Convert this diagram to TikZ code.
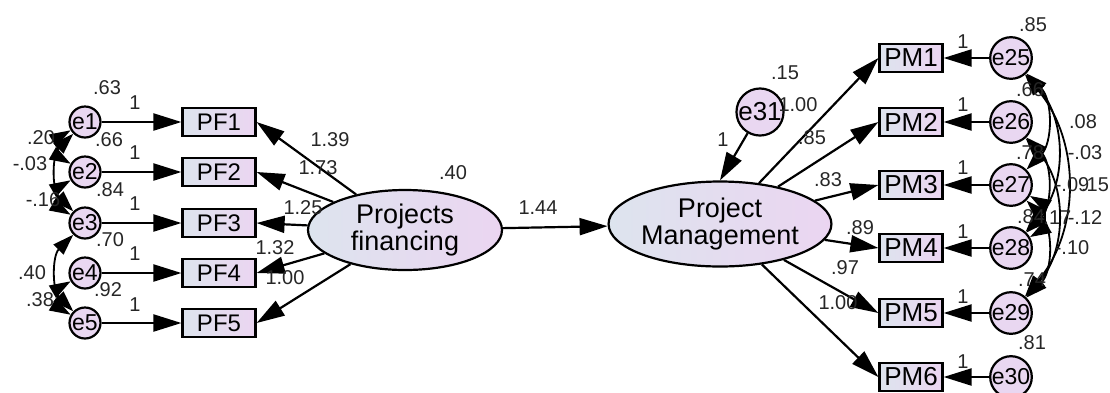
\documentclass[tikz,border=0pt]{standalone}
\usepackage{fontspec}
\setmainfont{Liberation Sans}
\usetikzlibrary{arrows.meta,shapes.geometric}

\definecolor{shadeleft}{RGB}{221,228,238}
\definecolor{shaderight}{RGB}{235,213,241}
\definecolor{errfill}{RGB}{233,215,241}

\tikzstyle{mybox} = [draw=black, line width=2.2pt, rectangle,
    left color=shadeleft, right color=shaderight, inner sep=0pt,
    minimum height=28pt]
\tikzstyle{mylatent} = [draw=black, line width=2.2pt, ellipse,
    left color=shadeleft, right color=shaderight, inner sep=0pt,
    align=center, font=\fontsize{27}{27}\selectfont]
\tikzstyle{myerr} = [draw=black, line width=2.2pt, circle, fill=errfill,
    inner sep=0pt, minimum size=31pt, font=\fontsize{23}{23}\selectfont]
\tikzstyle{myarrow} = [line width=2.2pt, -{Triangle[length=28pt,width=17pt]}]
\tikzstyle{mycov} = [line width=1.8pt,
    {Triangle[length=21pt,width=14pt]}-{Triangle[length=21pt,width=14pt]}]
\tikzstyle{mylabel} = [inner sep=0pt, text=black!85,
    font=\fontsize{20}{20}\selectfont]

\begin{document}
\begin{tikzpicture}[x=1pt,y=-1pt]
\useasboundingbox (0,0) rectangle (1110,392);

% left block
\node [myerr] (e1) at (85,122) {e1};
\node [myerr] (e2) at (85,172) {e2};
\node [myerr] (e3) at (85,223) {e3};
\node [myerr] (e4) at (85,273) {e4};
\node [myerr] (e5) at (85,323) {e5};
\node [mybox, minimum width=73pt, font=\fontsize{24}{24}\selectfont] (PF1) at (219,122) {PF1};
\node [mybox, minimum width=73pt, font=\fontsize{24}{24}\selectfont] (PF2) at (219,172) {PF2};
\node [mybox, minimum width=73pt, font=\fontsize{24}{24}\selectfont] (PF3) at (219,223) {PF3};
\node [mybox, minimum width=73pt, font=\fontsize{24}{24}\selectfont] (PF4) at (219,273) {PF4};
\node [mybox, minimum width=73pt, font=\fontsize{24}{24}\selectfont] (PF5) at (219,323) {PF5};
\node [mylatent, minimum width=194pt, minimum height=80pt] (pf) at (405,230) {Projects\\financing};

% right block
\node [mylatent, minimum width=200pt, minimum height=85pt] (pm) at (720,224) {Project\\Management};
\node [myerr, minimum size=42pt, font=\fontsize{26}{26}\selectfont] (e31) at (760,112) {e31};
\node [mybox, minimum width=63pt, font=\fontsize{26}{26}\selectfont] (PM1) at (911,58) {PM1};
\node [mybox, minimum width=63pt, font=\fontsize{26}{26}\selectfont] (PM2) at (911,122) {PM2};
\node [mybox, minimum width=63pt, font=\fontsize{26}{26}\selectfont] (PM3) at (911,185) {PM3};
\node [mybox, minimum width=63pt, font=\fontsize{26}{26}\selectfont] (PM4) at (911,248) {PM4};
\node [mybox, minimum width=63pt, font=\fontsize{26}{26}\selectfont] (PM5) at (911,313) {PM5};
\node [mybox, minimum width=63pt, font=\fontsize{26}{26}\selectfont] (PM6) at (911,377) {PM6};
\node [myerr, minimum size=34pt] (e25) at (1011,58) {e25};
\node [myerr, minimum size=34pt] (e26) at (1011,122) {e26};
\node [myerr, minimum size=34pt] (e27) at (1011,185) {e27};
\node [myerr, minimum size=34pt] (e28) at (1011,248) {e28};
\node [myerr, minimum size=34pt] (e29) at (1011,313) {e29};
\node [myerr, minimum size=34pt] (e30) at (1011,377) {e30};

% paths
\draw [myarrow] (e1) -- (PF1);
\draw [myarrow] (e2) -- (PF2);
\draw [myarrow] (e3) -- (PF3);
\draw [myarrow] (e4) -- (PF4);
\draw [myarrow] (e5) -- (PF5);
\draw [myarrow] (pf) -- (PF1.east);
\draw [myarrow] (pf) -- (PF2.east);
\draw [myarrow] (pf) -- (PF3.east);
\draw [myarrow] (pf) -- (PF4.east);
\draw [myarrow] (pf) -- (PF5.east);
\draw [myarrow] (pf) -- (pm);
\draw [myarrow] (e31) -- (pm.north);
\draw [myarrow] (pm) -- (PM1.west);
\draw [myarrow] (pm) -- (PM2.west);
\draw [myarrow] (pm) -- (PM3.west);
\draw [myarrow] (pm) -- (PM4.west);
\draw [myarrow] (pm) -- (PM5.west);
\draw [myarrow] (pm) -- (PM6.west);
\draw [myarrow] (e25) -- (PM1);
\draw [myarrow] (e26) -- (PM2);
\draw [myarrow] (e27) -- (PM3);
\draw [myarrow] (e28) -- (PM4);
\draw [myarrow] (e29) -- (PM5);
\draw [myarrow] (e30) -- (PM6);

% covariances
\draw [mycov] (e1) to[bend right=60] (e2);
\draw [mycov] (e1) to[bend right=45] (e3);
\draw [mycov] (e2) to[bend right=60] (e3);
\draw [mycov] (e3) to[bend right=45] (e5);
\draw [mycov] (e4) to[bend right=60] (e5);
\draw [mycov] (e25) to[bend left=45] (e27);
\draw [mycov] (e25) to[bend left=42] (e28);
\draw [mycov] (e25) to[bend left=40] (e29);
\draw [mycov] (e26) to[bend left=45] (e28);
\draw [mycov] (e26) to[bend left=42] (e29);
\draw [mycov] (e27) to[bend left=60] (e28);
\draw [mycov] (e27) to[bend left=45] (e29);

% estimates
\node [mylabel] (v1) at (107,88) {.63};
\node [mylabel] (v2) at (109,140) {.66};
\node [mylabel] (v3) at (110,190) {.84};
\node [mylabel] (v4) at (110,240) {.70};
\node [mylabel] (v5) at (108,290) {.92};
\node [mylabel] (w1) at (135,103) {1};
\node [mylabel] (w2) at (135,153) {1};
\node [mylabel] (w3) at (135,204) {1};
\node [mylabel] (w4) at (135,254) {1};
\node [mylabel] (w5) at (135,305) {1};
\node [mylabel] (c12) at (41,138) {.20};
\node [mylabel] (c13) at (30,164) {-.03};
\node [mylabel] (c23) at (43,200) {-.16};
\node [mylabel] (c35) at (32,273) {.40};
\node [mylabel] (c45) at (40,300) {.38};
\node [mylabel] (l1) at (330,140) {1.39};
\node [mylabel] (l2) at (318,168) {1.73};
\node [mylabel] (l3) at (303,208) {1.25};
\node [mylabel] (l4) at (275,248) {1.32};
\node [mylabel] (l5) at (285,278) {1.00};
\node [mylabel] (vpf) at (453,173) {.40};
\node [mylabel] (b1) at (538,208) {1.44};
\node [mylabel] (v31) at (785,73) {.15};
\node [mylabel] (r2) at (798,105) {1.00};
\node [mylabel] (w31) at (723,140) {1};
\node [mylabel] (m1) at (812,138) {.85};
\node [mylabel] (m2) at (828,180) {.83};
\node [mylabel] (m3) at (860,228) {.89};
\node [mylabel] (m4) at (845,268) {.97};
\node [mylabel] (m5) at (838,303) {1.00};
\node [mylabel] (u1) at (963,42) {1};
\node [mylabel] (u2) at (963,105) {1};
\node [mylabel] (u3) at (963,168) {1};
\node [mylabel] (u4) at (963,232) {1};
\node [mylabel] (u5) at (963,297) {1};
\node [mylabel] (u6) at (963,362) {1};
\node [mylabel] (v25) at (1033,25) {.85};
\node [mylabel] (v26) at (1030,90) {.66};
\node [mylabel] (v27) at (1030,153) {.78};
\node [mylabel] (v28) at (1031,217) {.84};
\node [mylabel] (v29) at (1032,280) {.74};
\node [mylabel] (v30) at (1032,343) {.81};
\node [mylabel] (c2527) at (1083,122) {.08};
\node [mylabel] (c2528) at (1085,153) {-.03};
\node [mylabel] (c2628) at (1072,185) {-.09};
\node [mylabel] (c2529) at (1095,185) {.15};
\node [mylabel] (c2728) at (1054,218) {-.17};
\node [mylabel] (c2629) at (1085,218) {-.12};
\node [mylabel] (c2729) at (1072,248) {-.10};
\end{tikzpicture}
\end{document}
